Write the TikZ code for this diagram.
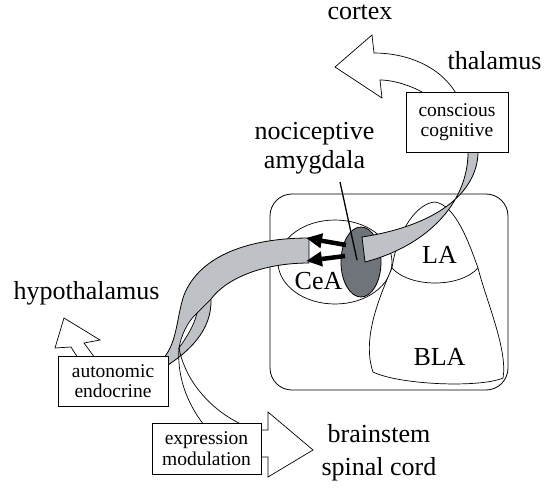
\documentclass[tikz,border=0pt]{standalone}
\usepackage{fontspec}
\setmainfont{Liberation Serif}
\usetikzlibrary{arrows.meta}
\usetikzlibrary{positioning}
\definecolor{bandgray}{RGB}{190,193,197}
\definecolor{nocigray}{RGB}{110,116,122}
\tikzset{
  lbl/.style={font=\fontsize{26}{29}\selectfont, inner sep=1pt},
  boxlbl/.style={draw, fill=white, line width=0.9pt, align=center, inner sep=0pt,
    font=\fontsize{19.5}{20.5}\selectfont},
  hollow/.style={draw, fill=white, line width=0.7pt, line join=miter},
  band/.style={draw, fill=bandgray, line width=0.8pt},
  thin/.style={line width=0.7pt},
  blackarrow/.style={line width=4.5pt, -{Triangle[length=16pt,width=14pt]}}
}

\begin{document}
\begin{tikzpicture}[x=1pt,y=-1pt]
\useasboundingbox (0,0) rectangle (552,496);

% amygdala outline, CeA, LA and BLA
\draw[line width=0.8pt, rounded corners=22pt] (270,194) rectangle (508,390);
\draw[thin] (335,262) ellipse [x radius=57pt, y radius=42pt];
\filldraw[thin, fill=white] (392,268) .. controls (398,228) and (418,203) .. (435,202)
  .. controls (455,205) and (468,240) .. (478,268)
  .. controls (486,300) and (508,350) .. (503,378)
  .. controls (480,388) and (400,385) .. (373,372)
  .. controls (362,340) and (378,300) .. (392,268) -- cycle;
\draw[thin] (392,268) .. controls (410,288) and (460,288) .. (478,268);
\filldraw[fill=nocigray, line width=0.8pt] (361,262) ellipse [x radius=20pt, y radius=35pt];

\coordinate (ptrtop) at (340,182);
\coordinate (ptrend) at (357,260);
\draw[line width=1.3pt] (ptrtop) -- (ptrend);

% pathways
\path[band] (478,148) .. controls (480,190) and (440,225) .. (362,237) -- (365,262)
  .. controls (430,245) and (470,200) .. (468,148) -- cycle;
\path[band] (309,238) .. controls (250,238) and (200,255) .. (184,295)
  .. controls (176,318) and (178,345) .. (160,362) -- (160,370)
  .. controls (190,352) and (212,330) .. (211,299)
  .. controls (225,280) and (260,263) .. (309,263) -- cycle;
\filldraw[thin, fill=white] (197,313) .. controls (187,322) and (181,336) .. (179,348)
  .. controls (186,338) and (194,326) .. (197,313) -- cycle;
\draw[thin] (211,299) -- (197,313);
\draw[thin] (179,348) .. controls (177,375) and (186,402) .. (204,425);
\draw[thin] (179,348) .. controls (185,380) and (210,410) .. (243,425);

\coordinate (ta) at (346,245);
\coordinate (ha) at (306,238);
\coordinate (tb) at (345,256);
\coordinate (hb) at (306,261);
\foreach \s/\h in {ta/ha, tb/hb}
  \draw[blackarrow] (\s) -- (\h);

% outputs
\path[hollow] (427,95) .. controls (415,87) and (395,80) .. (380,80) -- (382,98) -- (335,67)
  -- (372,35) -- (374,53) .. controls (405,53) and (440,65) .. (457,95) -- cycle;
\path[hollow] (78,358) -- (71,347) -- (55,348) -- (64,318) -- (100,340) -- (84,343)
  -- (95,358) -- cycle;
\path[hollow] (255,430) -- (268,430) -- (268,412) -- (313,450) -- (268,477) -- (268,457)
  -- (255,457) -- cycle;

\node[boxlbl, minimum width=102pt, minimum height=60pt] (conscious) at (457,122) {conscious\\cognitive};
\node[boxlbl, minimum width=110pt, minimum height=50pt] (autonomic) at (113,381) {autonomic\\endocrine};
\node[boxlbl, minimum width=109pt, minimum height=51pt] (expression) at (206.5,448.5) {expression\\modulation};

\node[lbl, anchor=base] (cortex) at (360,19.5) {cortex};
\node[lbl, anchor=base] (thalamus) at (494.5,69) {thalamus};
\node[lbl, anchor=base] (hypo) at (86.5,299) {hypothalamus};
\node[lbl, anchor=base, align=center] (noci) at (314.5,168) {nociceptive\\amygdala};
\node[lbl, anchor=base, align=center, font=\fontsize{26}{33}\selectfont] (brainstem) at (379,475.5) {brainstem\\spinal cord};
\node[lbl, anchor=base] (cea) at (318.5,289.5) {CeA};
\node[lbl, anchor=base] (la) at (439.5,263) {LA};
\node[lbl, anchor=base] (bla) at (439.5,365) {BLA};

\end{tikzpicture}
\end{document}
